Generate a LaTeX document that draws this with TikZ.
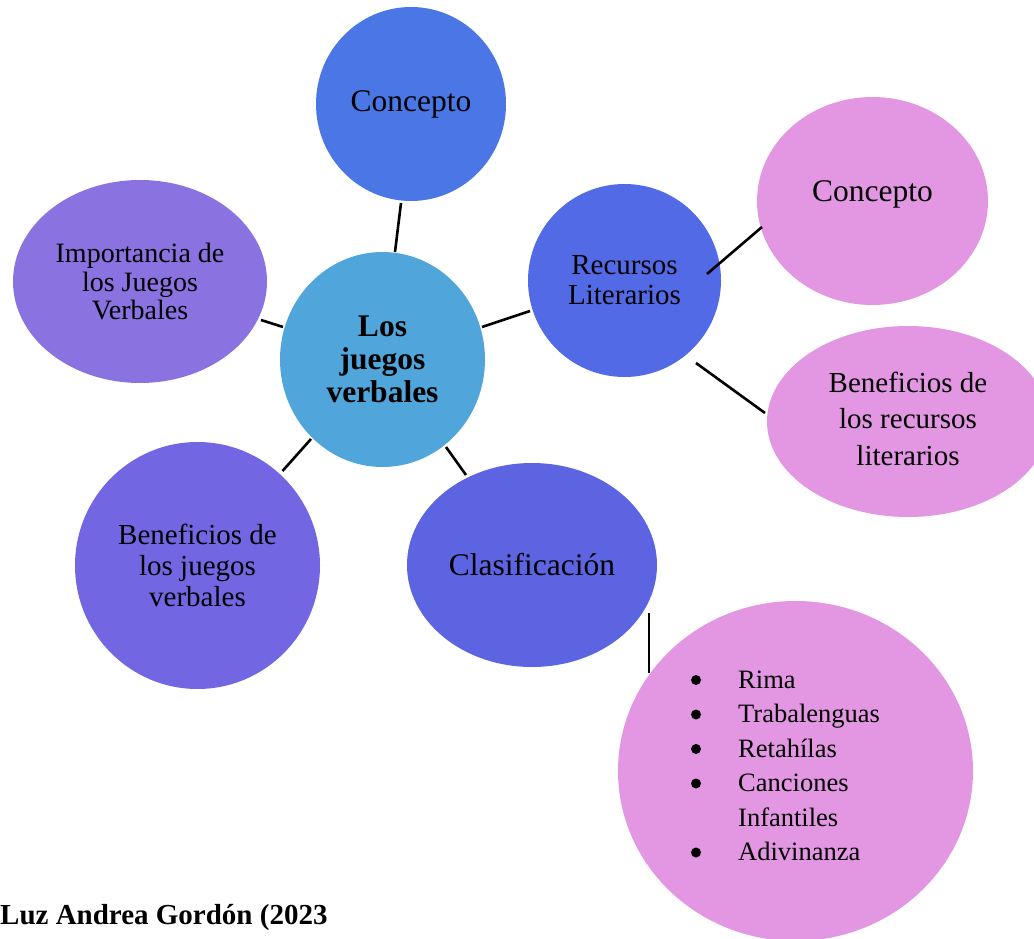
\documentclass[tikz,border=0pt]{standalone}
\usepackage{fontspec}
\setmainfont{Liberation Serif}
\usetikzlibrary{shapes.geometric,calc}
\definecolor{cTop}{HTML}{4A76E6}
\definecolor{cImp}{HTML}{8A72E0}
\definecolor{cCtr}{HTML}{50A6DA}
\definecolor{cRec}{HTML}{526AE5}
\definecolor{cPink}{HTML}{E397E3}
\definecolor{cBenJ}{HTML}{7266E2}
\definecolor{cClas}{HTML}{5C64E2}
\begin{document}
\begin{tikzpicture}[x=1pt,y=-1pt,
  bub/.style={ellipse,draw=none,inner sep=0pt,outer sep=0pt,align=center,text=black},
  conn/.style={line width=2.6pt,black},
  bulletdot/.style={fill=black}]
\useasboundingbox (0,0) rectangle (1034,939);
\clip (0,0) rectangle (1034,939);
\node[bub,fill=cTop,minimum width=190pt,minimum height=194pt,font=\fontsize{31.5}{33}\selectfont] (conT) at (411,104) {\raisebox{-6pt}{Concepto}};
\node[bub,fill=cImp,minimum width=254pt,minimum height=203pt,font=\fontsize{28}{28.5}\selectfont] (imp) at (140,281.5) {Importancia de\\los Juegos\\Verbales};
\node[bub,fill=cCtr,minimum width=205pt,minimum height=215pt,font=\fontsize{31.5}{33}\selectfont\bfseries] (ctr) at (382.5,359.5) {Los\\juegos\\verbales};
\node[bub,fill=cRec,minimum width=193pt,minimum height=193pt,font=\fontsize{29}{30}\selectfont] (rec) at (624.5,280.5) {Recursos\\Literarios};
\node[bub,fill=cPink,minimum width=231pt,minimum height=208pt,font=\fontsize{31.5}{33}\selectfont] (conP) at (872.5,201) {\raisebox{19pt}{Concepto}};
\node[bub,fill=cPink,minimum width=282pt,minimum height=191pt,font=\fontsize{29}{36.5}\selectfont] (benR) at (908,421.5) {\raisebox{3pt}{\begin{tabular}{@{}c@{}}Beneficios de\\los recursos\\literarios\end{tabular}}};
\node[bub,fill=cBenJ,minimum width=245pt,minimum height=247pt,font=\fontsize{29}{31}\selectfont] (benJ) at (197.5,565.5) {Beneficios de\\los juegos\\verbales};
\node[bub,fill=cClas,minimum width=250pt,minimum height=204pt,font=\fontsize{31.5}{33}\selectfont] (clas) at (532,565) {Clasificación};
\node[bub,fill=cPink,minimum width=355pt,minimum height=340pt] (list) at (795.5,771) {};
\node[anchor=base west,inner sep=0pt,font=\fontsize{26.5}{34.5}\selectfont] (items) at (738,688)
  {\begin{tabular}[t]{@{}l@{}}
   Rima\\
   Trabalenguas\\
   Retahílas\\
   Canciones\\
   Infantiles\\
   Adivinanza
   \end{tabular}};
\foreach \k in {0,1,2,3,5}
  \fill[bulletdot] ($(items.base west)+(-42,-8+34.5*\k)$) circle (5pt);
\node[anchor=base west,inner sep=0pt,font=\fontsize{29}{30}\selectfont\bfseries] (credit) at (0,924) {Luz Andrea Gordón (2023};
% connectors
\draw[conn] ($(conT)+(-10,99)$) -- ($(ctr)+(12.5,-107.5)$);
\draw[conn] ($(imp)+(121,38.5)$) -- ($(ctr)+(-99.5,-32.5)$);
\draw[conn] ($(ctr)+(99.5,-32.5)$) -- ($(rec)+(-94.5,30.5)$);
\draw[conn] ($(ctr)+(-71.5,79.5)$) -- ($(benJ)+(85,-94.5)$);
\draw[conn] ($(ctr)+(63.5,87.5)$) -- ($(clas)+(-66,-90)$);
\draw[conn] ($(rec)+(82.5,-6.5)$) -- ($(conP)+(-110.5,26)$);
\draw[conn] ($(rec)+(71.5,82.5)$) -- ($(benR)+(-143,-8.5)$);
\draw[conn] ($(clas)+(117,48)$) -- ($(list)+(-146.5,-98)$);
\end{tikzpicture}
\end{document}
